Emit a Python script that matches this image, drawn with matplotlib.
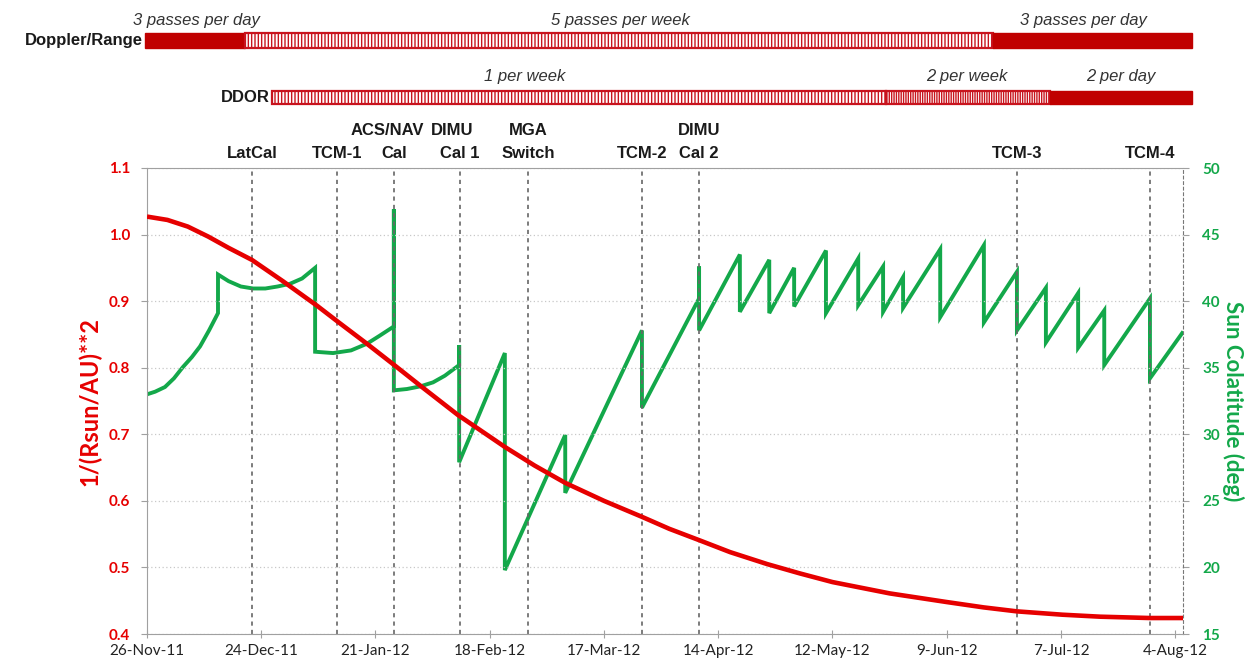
import numpy as np
import matplotlib
matplotlib.use("Agg")
import matplotlib.pyplot as plt
import matplotlib.dates as mdates
from matplotlib.ticker import MultipleLocator, FormatStrFormatter

# --- data -------------------------------------------------------------
start = np.datetime64("2011-11-26")

# 1/(Rsun/AU)**2  (day offset from 26-Nov-11, value)
red_days = [0, 5, 10, 15, 20, 25.7, 33.3, 41.7, 47, 53.9, 60.8, 67.6, 76.2,
            87.7, 95, 102.5, 112, 121.3, 128, 135.3, 142.9, 152, 160, 168,
            182, 196, 205, 213.2, 224.3, 233.6, 245.8, 253.9]
red_vals = [1.027, 1.022, 1.012, 0.997, 0.980, 0.962, 0.930, 0.893, 0.868,
            0.836, 0.803, 0.770, 0.729, 0.681, 0.653, 0.627, 0.600, 0.576,
            0.558, 0.541, 0.523, 0.505, 0.491, 0.478, 0.461, 0.448, 0.440,
            0.434, 0.429, 0.426, 0.424, 0.424]

# Sun colatitude (deg)
green_days = [0, 2, 4.4, 6.6, 8.8, 11, 13, 15.2, 17.4,
              17.4, 20, 23, 26, 29, 32, 35, 38, 41.2,
              41.2, 45.6, 50, 53.9, 57, 60.5,
              60.5, 60.5, 63.7, 67, 70.1, 73, 76.5,
              76.5, 76.5, 87.7, 87.7, 102.5, 102.5, 121.3, 121.3, 135.3, 135.3,
              135.3, 145.3, 145.3, 152.5, 152.5, 158.6, 158.6, 166.4, 166.4,
              174.3, 174.3, 180.4, 180.4, 185.3, 185.3, 194.4, 194.4, 205.1,
              205.1, 213.2, 213.2, 220.3, 220.3, 228.2, 228.2, 234.6, 234.6,
              245.8, 245.8, 253.7]
green_vals = [33.0, 33.2, 33.55, 34.2, 35.05, 35.8, 36.6, 37.8, 39.1,
              42.0, 41.5, 41.1, 40.95, 40.95, 41.1, 41.3, 41.7, 42.5,
              36.2, 36.1, 36.3, 36.8, 37.4, 38.1,
              46.9, 33.3, 33.4, 33.6, 33.9, 34.4, 35.2,
              36.7, 27.9, 36.1, 19.8, 29.95, 25.6, 37.8, 32.0, 40.2, 42.6,
              37.8, 43.5, 39.2, 43.1, 39.1, 42.5, 39.6, 43.8, 39.1,
              43.2, 39.7, 42.6, 39.2, 41.8, 39.5, 43.9, 38.8, 44.2,
              38.4, 42.2, 37.8, 41.0, 36.9, 40.6, 36.5, 39.3, 35.2,
              40.2, 34.2, 37.6]

event_names = ["LatCal", "TCM-1", "ACS/NAV\nCal", "DIMU\nCal 1", "MGA\nSwitch",
               "TCM-2", "DIMU\nCal 2", "TCM-3", "TCM-4"]
event_days = [25.7, 46.6, 60.5, 76.7, 93.4, 121.3, 135.3, 213.2, 245.8]

# tracking schedule: (start day, end day, style)
doppler_segs = [(-0.5, 24.0, "solid"), (24.0, 207.4, "weekly"), (207.4, 256.2, "solid")]
doppler_labels = ["3 passes per day", "5 passes per week", "3 passes per day"]
doppler_label_days = [12.0, 116.0, 229.5]
ddor_segs = [(30.6, 181.0, "weekly"), (181.0, 221.3, "dense"), (221.3, 256.2, "solid")]
ddor_labels = ["1 per week", "2 per week", "2 per day"]
ddor_label_days = [92.6, 201.0, 238.7]


def to_num(days):
    d = np.asarray(days, dtype=float)
    return mdates.date2num(start + (d * 1440).astype("timedelta64[m]"))


RED = "#e60000"
GREEN = "#13a84a"
TICK_FONT = "Lato"
LBL_FONT = "Liberation Sans"

fig = plt.figure(figsize=(12.53, 6.65), dpi=100)
W, H = 1253.0, 665.0
L, R, T, B = 147, 1183, 168, 634
ax = fig.add_axes([L / W, 1 - B / H, (R - L) / W, (B - T) / H])
ax2 = ax.twinx()

ax.plot(to_num(red_days), red_vals, color=RED, lw=3.3, zorder=3,
        solid_capstyle="butt", solid_joinstyle="round")
ax2.plot(to_num(green_days), green_vals, color=GREEN, lw=2.8, zorder=3,
         solid_joinstyle="miter")
ax.set_zorder(ax2.get_zorder() + 1)
ax.patch.set_visible(False)

ax.set_xlim(to_num([0])[0], to_num([253.9])[0])
ax.set_ylim(0.4, 1.1)
ax2.set_ylim(15, 50)
ax.yaxis.set_major_locator(MultipleLocator(0.1))
ax.yaxis.set_major_formatter(FormatStrFormatter("%.1f"))
ax2.yaxis.set_major_locator(MultipleLocator(5))

ticks = to_num(np.arange(0, 253, 28))
ax.set_xticks(ticks)
ax.xaxis.set_major_formatter(mdates.DateFormatter("%-d-%b-%y"))

ax.grid(axis="y", color="#c8c8c8", ls=(0, (1, 2)), lw=0.9)
for d in to_num(event_days):
    ax.axvline(d, color="#666666", ls=(0, (2.5, 2.5)), lw=1.2, zorder=1)

for s in ["left", "bottom", "top"]:
    ax.spines[s].set_color("#a0a0a0")
ax.spines["right"].set_visible(False)
for s in ["left", "bottom", "top"]:
    ax2.spines[s].set_visible(False)
ax2.spines["right"].set_color("#777777")
ax2.spines["right"].set_linestyle((0, (2.5, 2.5)))

ax.tick_params(axis="x", direction="inout", length=6, color="#a0a0a0",
               labelsize=11, labelcolor="#222222", pad=4)
ax.tick_params(axis="y", direction="out", length=4, color="#a0a0a0",
               labelsize=11, labelcolor=RED, pad=8)
ax2.tick_params(axis="y", direction="out", length=4, color="#a0a0a0",
                labelsize=11, labelcolor=GREEN, pad=10)
for lab in ax.get_xticklabels():
    lab.set_fontfamily(TICK_FONT)
for lab in ax.get_yticklabels():
    lab.set_fontfamily(TICK_FONT)
    lab.set_fontweight("bold")
for lab in ax2.get_yticklabels():
    lab.set_fontfamily(TICK_FONT)
    lab.set_fontweight("bold")

ax.set_ylabel("1/(Rsun/AU)**2", color=RED, fontsize=17, fontweight="bold",
              family=TICK_FONT, labelpad=5)
ax2.set_ylabel("Sun Colatitude (deg)", color=GREEN, fontsize=16, fontweight="bold",
               family=TICK_FONT, rotation=270, labelpad=17)

# event labels: one text per line, bottom line just above the plot frame.
# small horizontal nudges (points) so the crowded labels sit as in the original
event_dx = [[0], [0], [-5, 0], [-6, 0], [0, 0], [0], [0, 0], [0], [0]]
for name, d, dxs in zip(event_names, to_num(event_days), event_dx):
    lines = name.split("\n")
    for i, (ln, dx) in enumerate(zip(lines, dxs)):
        dy = 5 + 16.5 * (len(lines) - 1 - i)
        ax.annotate(ln, (d, 1.1), xytext=(dx, dy), textcoords="offset points",
                    ha="center", va="bottom", fontsize=12, fontweight="bold",
                    family=LBL_FONT, color="#1a1a1a", annotation_clip=False)

# --- tracking schedule bars ------------------------------------------
top = fig.add_axes([L / W, 1 - 115 / H, (R - L) / W, 115 / H], sharex=ax)
top.set_ylim(115, 0)
top.axis("off")

plt.rcParams["hatch.linewidth"] = 1.0


def draw_bar(segs, yc, h):
    for s, e, style in segs:
        x0, x1 = to_num([s, e])
        if style == "solid":
            top.add_patch(plt.Rectangle((x0, yc - h / 2), x1 - x0, h, fc="#c00000",
                                        ec="#c00000", lw=1, clip_on=False))
        else:
            hatch = "|" * (5 if style == "weekly" else 7)
            top.add_patch(plt.Rectangle((x0, yc - h / 2), x1 - x0, h, fc="white",
                                        ec="#c8141e", lw=1.6, hatch=hatch, clip_on=False))


draw_bar(doppler_segs, 40, 15)
draw_bar(ddor_segs, 97, 13)

for lab, d in zip(doppler_labels, to_num(doppler_label_days)):
    top.text(d, 20, lab, ha="center", va="center", style="italic", fontsize=12,
             family=LBL_FONT, color="#333333", clip_on=False)
for lab, d in zip(ddor_labels, to_num(ddor_label_days)):
    top.text(d, 77, lab, ha="center", va="center", style="italic", fontsize=12,
             family=LBL_FONT, color="#333333", clip_on=False)

top.text(to_num([doppler_segs[0][0] - 0.5])[0], 41, "Doppler/Range", ha="right",
         va="center", fontsize=12, fontweight="bold", family=LBL_FONT,
         color="#1a1a1a", clip_on=False)
top.text(to_num([ddor_segs[0][0] - 0.6])[0], 98, "DDOR", ha="right",
         va="center", fontsize=12, fontweight="bold", family=LBL_FONT,
         color="#1a1a1a", clip_on=False)

fig.savefig("out.png", dpi=100)
